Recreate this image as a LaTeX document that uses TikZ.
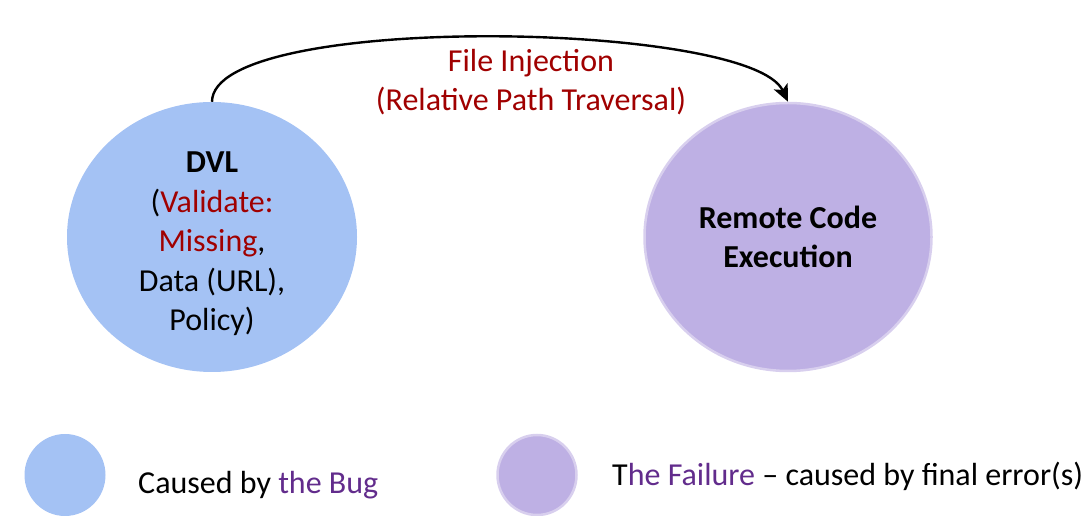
\documentclass[tikz,border=0pt]{standalone}
\usepackage{fontspec}
\setmainfont{Carlito}
\usetikzlibrary{arrows.meta,shapes.geometric}

\definecolor{bugblue}{RGB}{164,194,244}
\definecolor{failfill}{RGB}{190,176,228}
\definecolor{failrim}{RGB}{216,207,238}
\definecolor{darkred}{RGB}{160,0,0}
\definecolor{bugpurple}{RGB}{98,44,140}

\tikzset{
  bug/.style={ellipse,fill=bugblue,inner sep=0pt,minimum width=290pt,minimum height=270pt,align=center},
  failure/.style={ellipse,fill=failfill,draw=failrim,line width=2.5pt,inner sep=0pt,
                  minimum width=287pt,minimum height=268pt,align=center,font=\bfseries},
  key/.style={inner sep=0pt,anchor=base west},
}

\begin{document}
\fontsize{32}{39.5}\selectfont
\begin{tikzpicture}[x=1pt,y=1pt,>={Stealth[length=17pt,width=15pt,inset=4pt]},node distance=576pt]
   \useasboundingbox (0,0) rectangle (1092,516);

   % bug and failure (bug text sits a little below the centre)
   \node[bug,label={[align=center,yshift=-7pt]center:{\textbf{DVL}\\(\textcolor{darkred}{Validate:}\\\textcolor{darkred}{Missing},\\Data (URL),\\Policy)}}]
                  (dvl) at (212,279) {};
   \node[failure] (rce) [right of=dvl] {Remote Code\\Execution};

   % attack path
   \node[text=darkred,align=center] (attack) at (531,434) {File Injection\\(Relative Path Traversal)};
   \draw[->,line width=2.4pt] (dvl.north) .. controls +(0,90) and +(-38,81) .. (rce.north);

   % legend
   \node[bug,minimum width=81pt,minimum height=82pt]     (bugkey)  at (65,41)  {};
   \node[key]                                            (bugtxt)  at (138,22) {Caused by \textcolor{bugpurple}{the Bug}};
   \node[failure,minimum width=79pt,minimum height=80pt] (failkey) at (537,41) {};
   \node[key]                                            (failtxt) at (612,30) {T\textcolor{bugpurple}{he Failure} -- caused by final error(s)};
\end{tikzpicture}
\end{document}
